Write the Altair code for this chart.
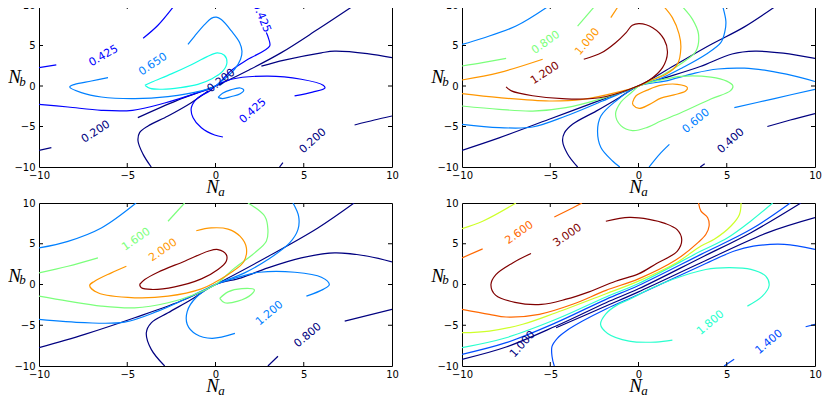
import altair as alt
import pandas as pd

# ---------------- shared axis values ----------------
AXIS_VALUES = [-10, -5, 0, 5, 10]
INNER_TICKS = [-5, 0, 5]

# ---------------- panel 1 (top left) ----------------
P1_020_A = [(-10, -7.94), (-9.3, -7.6)]
P1_020_B = [(-4.4, -3.9), (-2.2, -1.8), (0, 0), (2, 2.1), (3.73, 4.12), (5.8, 7.0), (7.88, 10)]
P1_020_C = [(10, 3.5), (8.6, 4.0), (6.75, 4.3), (6.0, 4.1), (3.9, 3.2), (2.6, 2.45)]
P1_020_D = [(-0.4, -0.6), (-1.37, -2.06), (-2.69, -3.7), (-3.82, -4.94), (-4.3, -5.76),
            (-4.39, -6.79), (-4.1, -8.44), (-3.64, -10)]
P1_020_E = [(3.63, -10), (3.82, -9.47)]
P1_020_F = [(7.88, -4.81), (9.0, -4.2), (10, -3.7)]
P1_0425_A = [(-10, 2.26), (-9.02, 2.6)]
P1_0425_B = [(-4.1, 5.9), (-3.26, 7.5), (-2.31, 10)]
P1_0425_C = [(-10, -2.26), (-8.36, -2.59), (-6.47, -3.0), (-4.7, -3.0), (-2.88, -2.1), (-1.0, -0.82),
             (0, 0), (0.9, 1.93), (1.84, 3.29), (3.07, 4.94), (3.0, 5.9), (2.88, 6.6)]
P1_0425_D = [(4.48, -1.23), (5.5, -0.75), (6.2, -0.25), (6.1, 0.1), (4.86, 0.83), (2.97, 1.23),
             (0.9, 0.83), (0, 0), (-0.33, -0.62), (-0.99, -1.44), (-1.37, -2.68), (-1.27, -3.91),
             (-0.8, -5.15), (-0.05, -6.05), (0.42, -6.3)]
P1_065_A = [(-1.56, 5.14), (-1.18, 6.17), (-0.61, 7.6), (-0.24, 8.35), (0.05, 8.5), (0.33, 8.2),
            (0.9, 6.8), (1.37, 5.35), (1.5, 4.3), (1.42, 3.3), (1.08, 2.06), (0.7, 1.23),
            (0.24, 0.41), (0, 0), (-0.8, -0.6), (-2.69, -1.3), (-4.58, -1.56), (-6.47, -1.36),
            (-7.6, -0.82), (-8.26, -0.12), (-7.98, 0.2), (-7.03, 0.62), (-6.09, 1.03)]
P1_065_B = [(0.15, -1.4), (0.4, -0.9), (0.9, -0.45), (1.4, -0.25), (1.6, -0.5), (1.4, -0.95),
            (0.9, -1.3), (0.4, -1.55), (0.15, -1.4)]
P1_0875_A = [(-4.0, 0.1), (-3.6, 0.5), (-2.5, 1.5), (-1.4, 2.6), (-0.5, 3.6), (0.1, 4.1), (0.5, 3.8),
             (0.65, 2.9), (0.4, 1.8), (-0.2, 0.9), (-1.0, 0.2), (-2.0, -0.2), (-3.0, -0.4),
             (-3.7, -0.3), (-4.0, 0.1)]
P1_SEGMENTS = [("0.200", P1_020_A), ("0.200", P1_020_B), ("0.200", P1_020_C), ("0.200", P1_020_D),
               ("0.200", P1_020_E), ("0.200", P1_020_F), ("0.425", P1_0425_A), ("0.425", P1_0425_B),
               ("0.425", P1_0425_C), ("0.425", P1_0425_D), ("0.650", P1_065_A), ("0.650", P1_065_B),
               ("0.875", P1_0875_A)]
P1_LABELS = [("0.200", -6.78, -5.68, -33), ("0.425", -6.34, 3.7, -30), ("0.650", -3.54, 2.67, -34),
             ("0.425", 2.6, 8.44, 68), ("0.200", 0.33, 0.62, -37), ("0.425", 2.12, -3.09, -42),
             ("0.200", 5.52, -6.79, -42)]

# ---------------- panel 2 (top right) ----------------
P2_04_A = [(-10, -7.94), (-7.9, -6.4), (-5.06, -4.1), (-2.04, -1.65), (0, 0), (2, 2.5), (4, 5.0),
           (6, 7.3), (7.87, 10)]
P2_04_B = [(10, 3.4), (8.2, 4.05), (6.6, 4.3), (5.3, 3.95), (3.5, 2.4), (1.5, 1.0), (0, 0),
           (-1.1, -1.44), (-2.4, -3.1), (-3.74, -4.73), (-4.2, -5.8), (-4.3, -6.8), (-4.02, -8.4),
           (-3.45, -10)]
P2_04_C = [(3.5, -10), (3.75, -9.6)]
P2_04_D = [(7.3, -5.0), (8.6, -4.2), (10, -3.4)]
P2_06_A = [(-10, 5.14), (-8.83, 5.9), (-6.94, 7.4), (-5.0, 10)]
P2_06_B = [(-10, -4.73), (-7.89, -5.14), (-6.0, -5.06), (-4.11, -3.7), (-2.04, -1.85), (0, 0),
           (1.36, 1.03), (2.49, 2.26), (3.81, 3.9), (4.66, 5.35), (4.9, 6.8), (4.95, 8.0), (4.75, 10)]
P2_06_C = [(10, 0.55), (8.8, 1.25), (7.3, 1.9), (6, 2.2), (4.5, 2.1), (3.2, 1.6), (1.5, 0.6), (0, 0),
           (-1.28, -1.85), (-2.13, -3.7), (-2.32, -5.56), (-2.13, -7.6), (-1.47, -9.26), (-1.06, -10)]
P2_06_D = [(10, -0.41), (7.7, -1.55), (5.43, -2.68)]
P2_06_E = [(1.75, -7.2), (1.2, -8.4), (0.6, -10)]
P2_08_A = [(-10, 2.47), (-8.83, 2.88), (-7.5, 3.4)]
P2_08_B = [(-3.45, 7.4), (-2.42, 10)]
P2_08_C = [(-10, -2.47), (-7.89, -2.88), (-6.0, -3.1), (-4.11, -2.67), (-2.23, -1.65), (0, 0),
           (1.36, 1.36), (2.49, 2.88), (3.25, 4.3), (3.4, 6.4), (3.06, 8.23), (2.4, 10)]
P2_08_D = [(0, 0), (0.6, 0.4), (1.3, 0.75), (2.4, 1.2), (4.1, 1.1), (5.0, 0.6), (5.35, 0), (5.2, -0.6),
           (4.1, -1.6), (2.4, -3.3), (1.27, -4.32), (0.5, -5.1), (-0.34, -5.5), (-1.0, -4.9),
           (-1.3, -3.5), (-1.0, -2.0), (-0.4, -0.8), (0, 0)]
P2_10_A = [(-10, 0.74), (-7.89, 1.65), (-5.43, 3.3)]
P2_10_B = [(-1.57, 8.44), (-1.1, 10)]
P2_10_C = [(-10, -0.95), (-7.89, -1.44), (-5.06, -1.85), (-3.17, -1.65), (-1.28, -0.82), (0, 0),
           (0.6, 0.62), (1.55, 1.44), (2.2, 2.67), (2.4, 4.73), (2.3, 6.4), (1.92, 8.44), (1.36, 10)]
P2_10_D = [(-0.34, -2.06), (-0.15, -1.23), (0.6, -0.41), (1.3, 0.1), (2.2, 0.21), (2.77, -0.2),
           (2.67, -0.62), (2.01, -1.1), (1.27, -1.5), (0.6, -2.3), (0.04, -2.76), (-0.3, -2.35),
           (-0.34, -2.06)]
P2_12_A = [(-7.5, -0.1), (-7.2, -0.6), (-6.0, -1.2), (-4.1, -1.6), (-2.2, -1.45), (-0.5, -0.4),
           (0.6, 0.7), (1.36, 2.26), (1.64, 4.1), (1.45, 5.76), (0.8, 7.2), (0.05, 7.7), (-0.35, 7.5),
           (-0.7, 6.6), (-1.3, 5.35), (-2.1, 4.1), (-3.1, 3.3)]
P2_SEGMENTS = [("0.400", P2_04_A), ("0.400", P2_04_B), ("0.400", P2_04_C), ("0.400", P2_04_D),
               ("0.600", P2_06_A), ("0.600", P2_06_B), ("0.600", P2_06_C), ("0.600", P2_06_D),
               ("0.600", P2_06_E), ("0.800", P2_08_A), ("0.800", P2_08_B), ("0.800", P2_08_C),
               ("0.800", P2_08_D), ("1.000", P2_10_A), ("1.000", P2_10_B), ("1.000", P2_10_C),
               ("1.000", P2_10_D), ("1.200", P2_12_A)]
P2_LABELS = [("0.800", -5.25, 5.35, -35), ("1.000", -2.89, 5.47, -50), ("1.200", -5.3, 1.56, -33),
             ("0.600", 3.26, -4.32, -40), ("0.400", 5.24, -6.79, -42)]

# ---------------- panel 3 (bottom left) ----------------
P3_08_A = [(-10, -7.76), (-7.41, -6.12), (-4.58, -4.08), (-1.75, -1.84), (0, 0), (3.0, 3.47),
           (5.8, 6.94), (7.85, 10)]
P3_08_B = [(10, 2.78), (8.64, 3.47), (6.75, 3.88), (4.86, 3.27), (2.97, 2.04), (1.46, 0.82), (0, 0),
           (-1.37, -1.84), (-2.69, -3.47), (-3.64, -4.7), (-3.92, -5.92), (-3.64, -7.96), (-2.88, -10)]
P3_08_C = [(2.97, -10), (3.54, -8.8)]
P3_08_D = [(7.32, -4.49), (10, -3.06)]
P3_12_A = [(-10, 4.49), (-8.36, 5.3), (-6.47, 6.94), (-4.5, 10)]
P3_12_B = [(-10, -4.29), (-7.41, -4.69), (-5.15, -4.61), (-3.26, -3.27), (-1.56, -1.63), (0, 0),
           (1.65, 1.43), (2.97, 3.06), (4.2, 5.1), (4.67, 6.73), (4.71, 8.37), (4.39, 10)]
P3_12_C = [(5.15, -1.43), (6.1, -0.6), (6.45, 0), (6.0, 0.9), (4.5, 1.5), (2.5, 1.5), (1.3, 0.9),
           (0, 0), (-1.1, -1.6), (-1.6, -3.3), (-1.6, -4.9), (-1.1, -6.1), (-0.2, -6.6), (1.1, -6.0)]
P3_16_A = [(-10, 1.43), (-8.36, 2.24), (-6.66, 3.27)]
P3_16_B = [(-2.69, 7.76), (-1.75, 10)]
P3_16_C = [(-10, -1.43), (-8.36, -2.04), (-6.47, -2.65), (-4.58, -2.86), (-2.69, -2.24),
           (-1.18, -1.22), (0, 0), (1.09, 2.04), (2.22, 3.88), (2.88, 5.3), (2.97, 6.73), (2.79, 8.37),
           (1.84, 10)]
P3_16_D = [(0.24, -1.7), (0.71, -0.9), (1.5, -0.5), (2.2, -0.65), (2.03, -1.22), (1.27, -2.04),
           (0.52, -2.24), (0.24, -1.7)]
P3_20_A = [(-1.09, 6.6), (-0.24, 6.94), (0.71, 6.8), (1.4, 5.9), (1.75, 4.5), (1.6, 2.8), (0.9, 1.5),
           (0, 0.3), (-0.8, -0.53), (-2.69, -1.43), (-4.58, -1.63), (-6.66, -1.02), (-7.13, -0.12),
           (-6.85, 0.41), (-5.9, 1.43), (-5.05, 2.24)]
P3_24_A = [(-4.3, 0), (-4.01, 0.61), (-3.26, 1.51), (-1.75, 2.86), (-0.42, 4.08), (0.14, 4.29),
           (0.61, 3.67), (0.61, 2.86), (0.14, 1.84), (-0.8, 0.69), (-2.31, -0.29), (-3.64, -0.61),
           (-4.2, -0.41), (-4.3, 0)]
P3_SEGMENTS = [("0.800", P3_08_A), ("0.800", P3_08_B), ("0.800", P3_08_C), ("0.800", P3_08_D),
               ("1.200", P3_12_A), ("1.200", P3_12_B), ("1.200", P3_12_C), ("1.600", P3_16_A),
               ("1.600", P3_16_B), ("1.600", P3_16_C), ("1.600", P3_16_D), ("2.000", P3_20_A),
               ("2.400", P3_24_A)]
P3_LABELS = [("1.600", -4.49, 5.51, -35), ("2.000", -2.97, 4.2, -35), ("1.200", 3.07, -3.55, -40),
             ("0.800", 5.24, -6.24, -40)]

# ---------------- panel 4 (bottom right) ----------------
P4_10_A = [(9.2, 10), (6.37, 6.36), (3.54, 3.29), (0, -0.53), (-1.84, -2.23), (-4.67, -5.09),
           (-7.5, -7.67), (-10, -9.18)]
P4_10_B = [(10, 8.2), (7.32, 6.36), (3.54, 2.67), (0, -0.9), (-1.84, -2.64), (-4.67, -5.3)]
P4_14_A = [(8.6, 10), (6.37, 6.77), (3.54, 3.7), (0, -0.12), (-1.84, -1.82), (-4.67, -4.68),
           (-7.5, -7.14), (-10, -8.57)]
P4_14_B = [(10, 4.3), (8.26, 4.93), (6.5, 4.7), (5.43, 4.11), (3.54, 2.3), (0, -1.22), (-1.84, -3.0),
           (-3.17, -4.49), (-4.1, -5.7), (-4.6, -6.6), (-4.9, -7.6), (-4.9, -8.8), (-4.77, -10)]
P4_14_C = [(4.85, -10), (5.42, -9.18)]
P4_14_D = [(9.47, -5.18), (10, -4.9)]
P4_18_A = [(7.6, 10), (6.37, 7.8), (5.05, 5.74), (3.54, 4.1), (0, 0.12), (-1.84, -1.53),
           (-4.67, -4.27), (-7.5, -6.53), (-10, -7.75)]
P4_18_B = [(1.92, -6.82), (0.98, -7.06), (-0.53, -6.94), (-1.75, -6.0), (-2.15, -4.9), (-1.85, -3.6),
           (-1.2, -2.5), (-0.53, -1.84), (0.7, -0.5), (1.92, 0.61), (3.81, 1.84), (5.13, 2.06),
           (6.37, 1.86), (7.21, 1.02), (7.4, -0.12), (7.02, -1.43), (6.17, -2.65)]
P4_22_A = [(-10, 6.86), (-8.83, 7.76), (-6.94, 10)]
P4_22_B = [(5.81, 10), (5.72, 8.6), (5.24, 7.18), (4.29, 5.55), (3.54, 4.72), (2.1, 2.6), (0, 0.41),
           (-1.84, -1.13), (-4.67, -3.46), (-6.56, -4.88), (-8.45, -5.71), (-10, -5.91)]
P4_26_A = [(-10, 3.27), (-8.83, 4.37)]
P4_26_B = [(-4.77, 8.29), (-3.74, 9.39), (-3.2, 10)]
P4_26_C = [(3.4, 10), (3.54, 9.0), (3.92, 8.2), (4.0, 7.18), (3.82, 6.16), (3.4, 5.2), (2.11, 3.0),
           (0, 0.69), (-1.84, -0.72), (-3.73, -2.43), (-5.62, -3.66), (-7.5, -3.99), (-8.45, -3.66),
           (-10, -3.04)]
P4_30_A = [(-6.09, 3.8), (-7.13, 2.65), (-8.08, 1.22), (-8.36, 0), (-8.1, -1.3), (-7.0, -2.2),
           (-5.5, -2.45), (-4.1, -1.8), (-2.8, -0.9), (-1.3, 0.4), (0, 1.3), (1.0, 2.55), (2.2, 4.1),
           (2.45, 5.5), (2.2, 6.7), (1.5, 7.5), (0.6, 8.0), (-0.53, 8.24), (-1.85, 7.76)]
P4_SEGMENTS = [("1.000", P4_10_A), ("1.000", P4_10_B), ("1.400", P4_14_A), ("1.400", P4_14_B),
               ("1.400", P4_14_C), ("1.400", P4_14_D), ("1.800", P4_18_A), ("1.800", P4_18_B),
               ("2.200", P4_22_A), ("2.200", P4_22_B), ("2.600", P4_26_A), ("2.600", P4_26_B),
               ("2.600", P4_26_C), ("3.000", P4_30_A)]
P4_LABELS = [("2.600", -6.75, 6.33, -35), ("3.000", -4.02, 6.0, -35), ("1.800", 4.09, -4.69, -40),
             ("1.400", 7.4, -7.06, -40), ("1.000", -6.56, -7.34, -47)]

# ---------------- styles (jet colours per contour level) ----------------
P1_COLORS = {"0.200": "#000080", "0.425": "#0000ff", "0.650": "#0080ff", "0.875": "#14ffe2"}
P2_COLORS = {"0.400": "#000080", "0.600": "#0080ff", "0.800": "#7bff7b", "1.000": "#ff9700",
             "1.200": "#800000"}
P3_COLORS = {"0.800": "#000080", "1.200": "#0080ff", "1.600": "#7bff7b", "2.000": "#ff9700",
             "2.400": "#800000"}
P4_COLORS = {"1.000": "#000080", "1.400": "#004dff", "1.800": "#29ffce", "2.200": "#ceff29",
             "2.600": "#ff6800", "3.000": "#800000"}

W = 353
H_TOP = 162
H_BOT = 163


def panel(segments, labels, colors, w, h):
    rows = []
    for k, (lvl, pts) in enumerate(segments):
        for i, (x, y) in enumerate(pts):
            rows.append({"seg": k, "i": i, "x": x, "y": y, "c": colors[lvl]})
    df = pd.DataFrame(rows)
    lab = pd.DataFrame([{"t": t, "x": x, "y": y, "a": a % 360, "c": colors[t]}
                        for t, x, y, a in labels])
    xs = alt.Scale(domain=[-10, 10], nice=False, zero=False)
    ys = alt.Scale(domain=[-10, 10], nice=False, zero=False)
    ax_common = dict(values=AXIS_VALUES, title=None, grid=False, domain=False, ticks=False,
                     tickSize=0, labelFont="DejaVu Sans", labelFontSize=10, labelColor="black",
                     labelFlush=False, labelOverlap=False,
                     labelExpr="replace(datum.label, '-', '\u2212')")
    xax = alt.Axis(labelPadding=3, **ax_common)
    yax = alt.Axis(labelPadding=4, **ax_common)
    lines = alt.Chart(df).mark_line(strokeWidth=1.2, clip=True, interpolate="catmull-rom").encode(
        x=alt.X("x:Q", scale=xs, axis=xax),
        y=alt.Y("y:Q", scale=ys, axis=yax),
        color=alt.Color("c:N", scale=None),
        detail="seg:N",
        order="i:Q",
    )
    texts = alt.Chart(lab).mark_text(font="DejaVu Sans", fontSize=11).encode(
        x=alt.X("x:Q", scale=xs, axis=xax),
        y=alt.Y("y:Q", scale=ys, axis=yax),
        text="t:N",
        color=alt.Color("c:N", scale=None),
        angle=alt.Angle("a:Q", scale=None),
    )
    tdf = pd.DataFrame({"v": INNER_TICKS})
    tb = alt.Chart(tdf).mark_rule(color="black", strokeWidth=1).encode(
        x=alt.X("v:Q", scale=xs, axis=xax), y=alt.value(h), y2=alt.value(h - 4))
    tt = alt.Chart(tdf).mark_rule(color="black", strokeWidth=1).encode(
        x=alt.X("v:Q", scale=xs, axis=xax), y=alt.value(0), y2=alt.value(4))
    tl = alt.Chart(tdf).mark_rule(color="black", strokeWidth=1).encode(
        y=alt.Y("v:Q", scale=ys, axis=yax), x=alt.value(0), x2=alt.value(4))
    tr = alt.Chart(tdf).mark_rule(color="black", strokeWidth=1).encode(
        y=alt.Y("v:Q", scale=ys, axis=yax), x=alt.value(w), x2=alt.value(w - 4))
    serif = dict(font="Liberation Serif", fontStyle="italic", color="black",
                 baseline="alphabetic", align="center")
    nx = alt.Chart(pd.DataFrame({"t": ["N"]})).mark_text(fontSize=19, **serif).encode(
        x=alt.value(w / 2 - 3), y=alt.value(h + 26), text="t:N")
    sx = alt.Chart(pd.DataFrame({"t": ["a"]})).mark_text(fontSize=13, **serif).encode(
        x=alt.value(w / 2 + 6), y=alt.value(h + 29), text="t:N")
    ny = alt.Chart(pd.DataFrame({"t": ["N"]})).mark_text(fontSize=19, **serif).encode(
        x=alt.value(-24.4), y=alt.value(h / 2 - 2.7), text="t:N")
    sy = alt.Chart(pd.DataFrame({"t": ["b"]})).mark_text(fontSize=13, **serif).encode(
        x=alt.value(-16.5), y=alt.value(h / 2 - 0.5), text="t:N")
    return alt.layer(lines, texts, tb, tt, tl, tr, nx, sx, ny, sy).properties(width=w, height=h)


p1 = panel(P1_SEGMENTS, P1_LABELS, P1_COLORS, W, H_TOP)
p2 = panel(P2_SEGMENTS, P2_LABELS, P2_COLORS, W, H_TOP)
p3 = panel(P3_SEGMENTS, P3_LABELS, P3_COLORS, W, H_BOT)
p4 = panel(P4_SEGMENTS, P4_LABELS, P4_COLORS, W, H_BOT)

chart = alt.concat(p1, p2, p3, p4, columns=2, spacing={"row": 36, "column": 70},
                   bounds="flush").properties(
    padding={"left": -1, "top": -9, "right": 0, "bottom": 0}
).configure_view(stroke="black", strokeWidth=1)

chart.save("out.html", embed_options={"renderer": "svg", "actions": False})
